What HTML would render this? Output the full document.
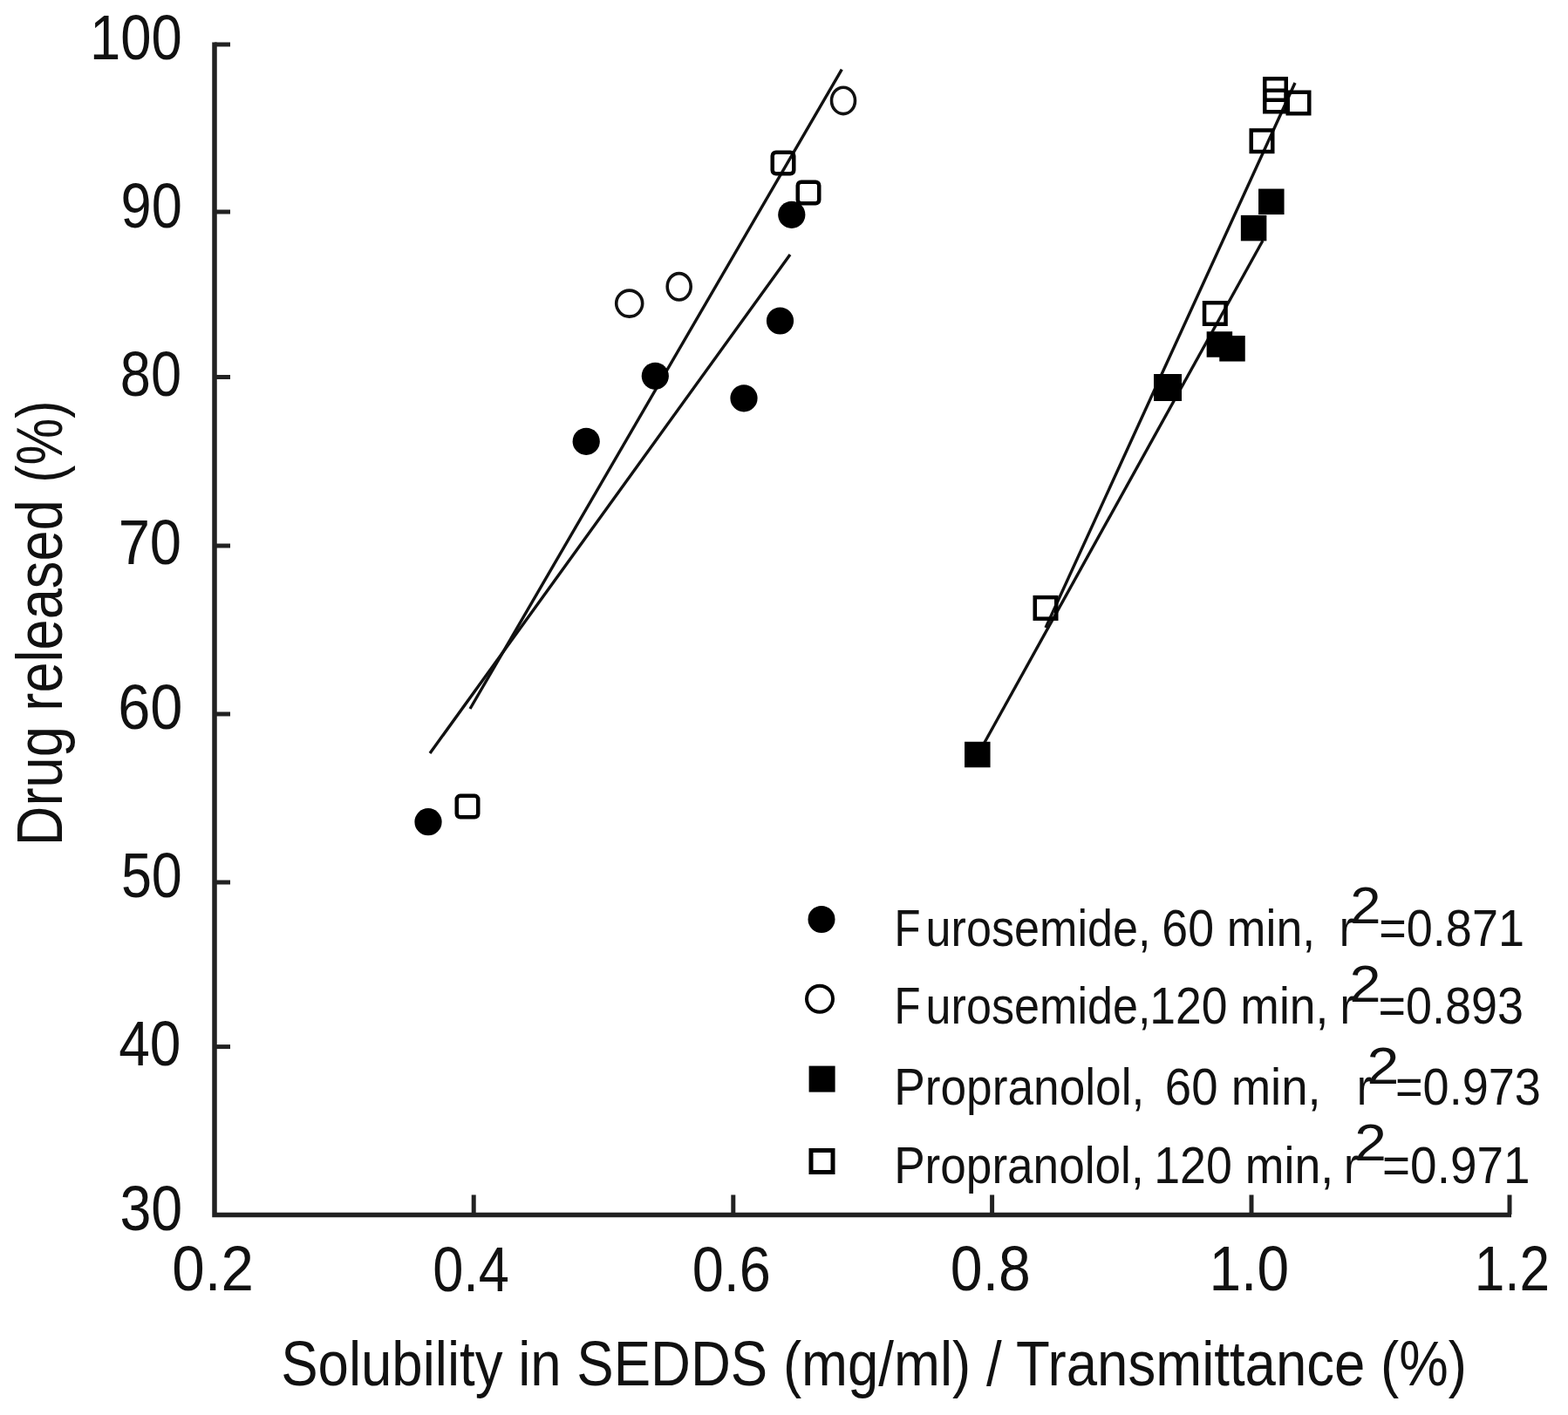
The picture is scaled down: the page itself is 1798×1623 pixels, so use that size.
<!DOCTYPE html>
<html><head><meta charset="utf-8"><title>Drug released vs solubility</title>
<style>html,body{margin:0;padding:0;background:#fff;}svg{display:block;}</style></head>
<body><svg width="1798" height="1623" viewBox="0 0 1798 1623">
<rect width="1798" height="1623" fill="#fff"/>
<path d="M246 48.5 V1393.5 H1733" fill="none" stroke="#222" stroke-width="5.5" stroke-linejoin="miter"/>
<line x1="246" y1="51" x2="264" y2="51" stroke="#222" stroke-width="5"/>
<line x1="246" y1="243" x2="264" y2="243" stroke="#222" stroke-width="5"/>
<line x1="246" y1="432.5" x2="264" y2="432.5" stroke="#222" stroke-width="5"/>
<line x1="246" y1="626" x2="264" y2="626" stroke="#222" stroke-width="5"/>
<line x1="246" y1="819" x2="264" y2="819" stroke="#222" stroke-width="5"/>
<line x1="246" y1="1012" x2="264" y2="1012" stroke="#222" stroke-width="5"/>
<line x1="246" y1="1200.6" x2="264" y2="1200.6" stroke="#222" stroke-width="5"/>
<line x1="543.2" y1="1393" x2="543.2" y2="1370.5" stroke="#222" stroke-width="5"/>
<line x1="840.8" y1="1393" x2="840.8" y2="1370.5" stroke="#222" stroke-width="5"/>
<line x1="1137.6" y1="1393" x2="1137.6" y2="1370.5" stroke="#222" stroke-width="5"/>
<line x1="1435" y1="1393" x2="1435" y2="1370.5" stroke="#222" stroke-width="5"/>
<line x1="1731" y1="1393" x2="1731" y2="1370.5" stroke="#222" stroke-width="5"/>
<line x1="539" y1="813" x2="965.3" y2="79.7" stroke="#111" stroke-width="3.4"/>
<line x1="493" y1="864" x2="906" y2="292" stroke="#111" stroke-width="3.4"/>
<line x1="1199" y1="720" x2="1485" y2="95" stroke="#111" stroke-width="3.4"/>
<line x1="1121" y1="866" x2="1448" y2="276" stroke="#111" stroke-width="3.4"/>
<circle cx="491" cy="942.7" r="15.6" fill="#000"/>
<circle cx="672.2" cy="506.3" r="15.6" fill="#000"/>
<circle cx="751.3" cy="431.3" r="15.6" fill="#000"/>
<circle cx="853" cy="456.8" r="15.6" fill="#000"/>
<circle cx="894.5" cy="368" r="15.6" fill="#000"/>
<circle cx="907.8" cy="246.3" r="15.6" fill="#000"/>
<circle cx="721.7" cy="348.1" r="15" fill="none" stroke="#111" stroke-width="3.6"/>
<ellipse cx="778.7" cy="328.8" rx="13.5" ry="15.2" fill="none" stroke="#111" stroke-width="3.6"/>
<ellipse cx="967" cy="115.4" rx="13.5" ry="15.2" fill="none" stroke="#111" stroke-width="3.6"/>
<rect x="885.75" y="174.75" width="24.5" height="24.5" rx="4" fill="none" stroke="#000" stroke-width="4.5"/>
<rect x="914.75" y="208.75" width="24.5" height="24.5" rx="4" fill="none" stroke="#000" stroke-width="4.5"/>
<rect x="523.75" y="912.85" width="24.5" height="24.5" rx="4" fill="none" stroke="#000" stroke-width="4.5"/>
<rect x="1106.05" y="850.75" width="29.5" height="29.5" fill="#000"/>
<rect x="1383.65" y="380.25" width="29.5" height="29.5" fill="#000"/>
<rect x="1398.25" y="385.05" width="29.5" height="29.5" fill="#000"/>
<rect x="1422.85" y="246.85" width="29.5" height="29.5" fill="#000"/>
<rect x="1443.05" y="216.55" width="29.5" height="29.5" fill="#000"/>
<rect x="1186.75" y="685.15" width="24.5" height="24.5" fill="none" stroke="#000" stroke-width="4.5"/>
<rect x="1381.05" y="347.25" width="24.5" height="24.5" fill="none" stroke="#000" stroke-width="4.5"/>
<rect x="1434.75" y="149.45" width="24.5" height="24.5" fill="none" stroke="#000" stroke-width="4.5"/>
<rect x="1450.25" y="90.25" width="24.5" height="24.5" fill="none" stroke="#000" stroke-width="4.5"/>
<rect x="1450.25" y="103.75" width="24.5" height="24.5" fill="none" stroke="#000" stroke-width="4.5"/>
<rect x="1476.75" y="105.75" width="24.5" height="24.5" fill="none" stroke="#000" stroke-width="4.5"/>
<rect x="1323" y="429" width="32" height="31" fill="#000"/>
<circle cx="942" cy="1054.5" r="15.5" fill="#000"/>
<circle cx="940" cy="1145.7" r="15" fill="none" stroke="#000" stroke-width="4"/>
<rect x="927.6" y="1222.6" width="30" height="30" fill="#000"/>
<rect x="930" y="1319.5" width="25" height="25" fill="none" stroke="#000" stroke-width="5"/>
<g font-family="Liberation Sans, Arial, sans-serif" fill="#111">
<text transform="matrix(0.8761 0 0 1 102.91 67.60)" font-size="72.4">100</text>
<text transform="matrix(0.8730 0 0 1 138.56 261.10)" font-size="72.4">90</text>
<text transform="matrix(0.8730 0 0 1 137.76 453.90)" font-size="72.4">80</text>
<text transform="matrix(0.9001 0 0 1 135.64 647.20)" font-size="72.4">70</text>
<text transform="matrix(0.9231 0 0 1 135.16 836.00)" font-size="72.4">60</text>
<text transform="matrix(0.8688 0 0 1 138.88 1029.30)" font-size="72.4">50</text>
<text transform="matrix(0.8853 0 0 1 136.20 1221.70)" font-size="72.4">40</text>
<text transform="matrix(0.8915 0 0 1 137.42 1410.80)" font-size="72.4">30</text>
<text transform="matrix(0.9297 0 0 1 197.31 1479.80)" font-size="72.4">0.2</text>
<text transform="matrix(0.8727 0 0 1 496.17 1480.90)" font-size="72.4">0.4</text>
<text transform="matrix(0.8975 0 0 1 793.70 1480.90)" font-size="72.4">0.6</text>
<text transform="matrix(0.9145 0 0 1 1089.85 1480.20)" font-size="72.4">0.8</text>
<text transform="matrix(0.9098 0 0 1 1386.48 1480.20)" font-size="72.4">1.0</text>
<text transform="matrix(0.8594 0 0 1 1690.63 1480.30)" font-size="72.4">1.2</text>
<text transform="matrix(0.8739 0 0 1 322.14 1589.30)" font-size="72.75">Solubility in SEDDS (mg/ml) / Transmittance (%)</text>
<text transform="translate(70.7 970.16) rotate(-90) scale(0.8598 1)" font-size="73.5">Drug released</text>
<text transform="translate(70.7 553.63) rotate(-90) scale(0.8220 1)" font-size="73.5">(%)</text>
<text transform="matrix(0.8407 0 0 1 1025.57 1084.50)" font-size="58.5">F</text>
<text transform="matrix(0.8911 0 0 1 1061.61 1084.50)" font-size="58.5">urosemide,</text>
<text transform="matrix(0.9168 0 0 1 1332.32 1084.50)" font-size="58.5">60 min,</text>
<text transform="matrix(0.8800 0 0 1 1535.85 1084.50)" font-size="58.5">r</text>
<text transform="matrix(1.0820 0 0 1 1548.14 1059.30)" font-size="58.5">2</text>
<text transform="matrix(0.9232 0 0 1 1581.30 1084.50)" font-size="58.5">=0.871</text>
<text transform="matrix(0.8407 0 0 1 1025.57 1173.50)" font-size="58.5">F</text>
<text transform="matrix(0.8911 0 0 1 1061.61 1173.50)" font-size="58.5">urosemide,</text>
<text transform="matrix(0.9144 0 0 1 1318.26 1173.50)" font-size="58.5">120 min,</text>
<text transform="matrix(0.8800 0 0 1 1536.45 1173.50)" font-size="58.5">r</text>
<text transform="matrix(1.1045 0 0 1 1547.47 1148.60)" font-size="58.5">2</text>
<text transform="matrix(0.9216 0 0 1 1580.60 1173.50)" font-size="58.5">=0.893</text>
<text transform="matrix(0.9107 0 0 1 1025.14 1267.20)" font-size="58.5">Propranolol,</text>
<text transform="matrix(0.9325 0 0 1 1335.87 1267.20)" font-size="58.5">60 min,</text>
<text transform="matrix(0.8800 0 0 1 1555.85 1267.20)" font-size="58.5">r</text>
<text transform="matrix(1.1308 0 0 1 1567.39 1242.50)" font-size="58.5">2</text>
<text transform="matrix(0.9250 0 0 1 1599.99 1267.20)" font-size="58.5">=0.973</text>
<text transform="matrix(0.9084 0 0 1 1025.15 1356.90)" font-size="58.5">Propranolol,</text>
<text transform="matrix(0.9182 0 0 1 1323.24 1356.90)" font-size="58.5">120 min,</text>
<text transform="matrix(0.8800 0 0 1 1540.95 1356.90)" font-size="58.5">r</text>
<text transform="matrix(1.1271 0 0 1 1553.20 1331.20)" font-size="58.5">2</text>
<text transform="matrix(0.9390 0 0 1 1585.05 1356.90)" font-size="58.5">=0.971</text>
</g>
</svg></body></html>
